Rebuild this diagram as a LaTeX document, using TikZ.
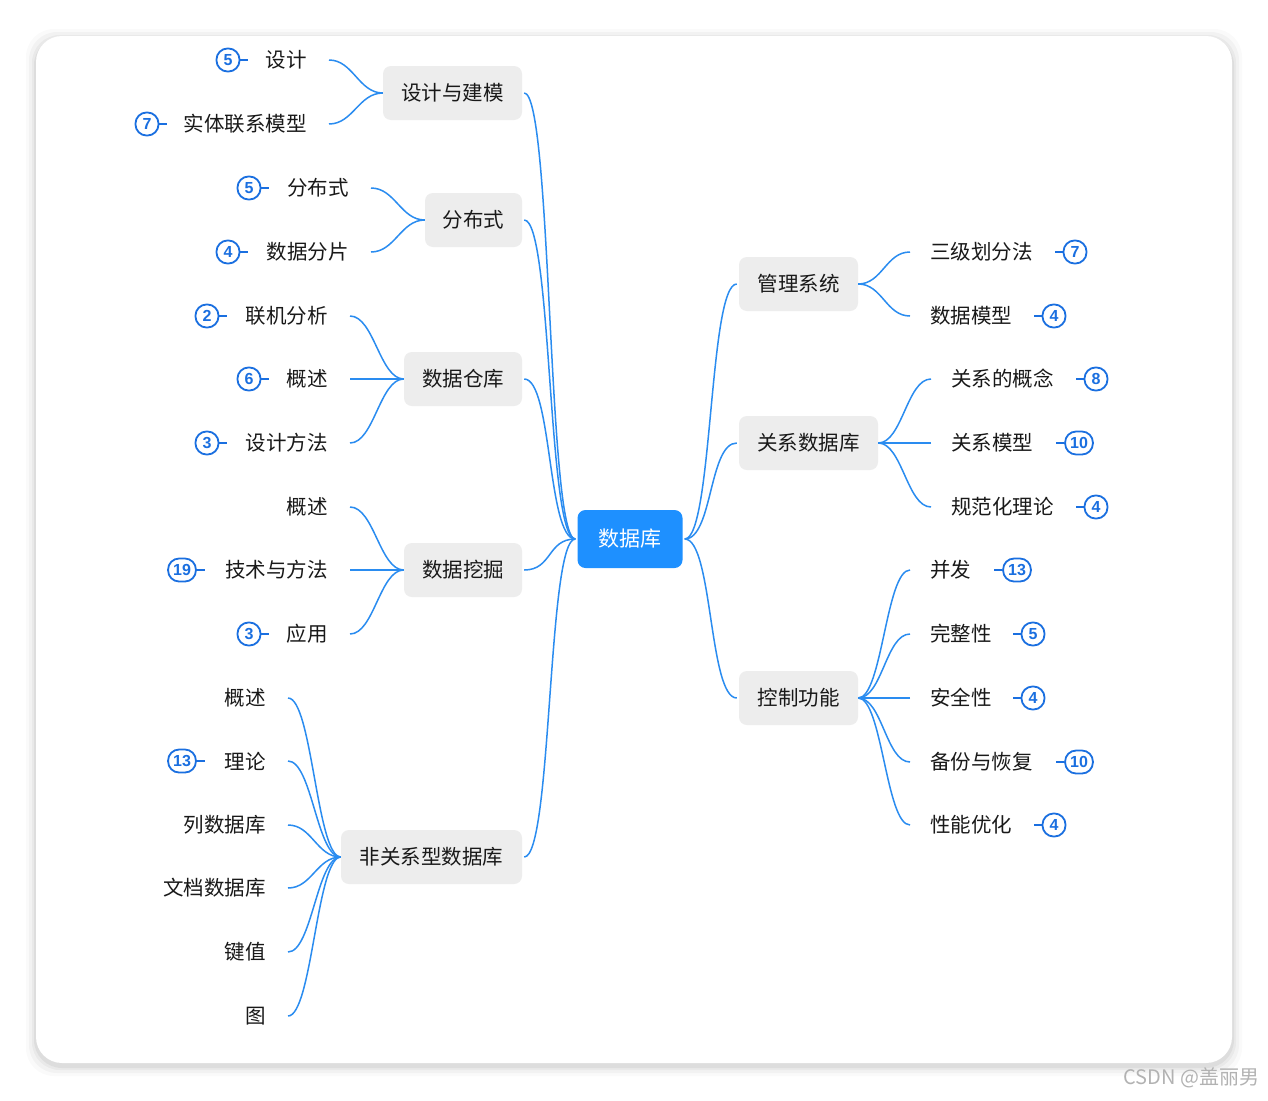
\documentclass[tikz,border=0pt]{standalone}
\usepackage{fontspec}
\setmainfont{Noto Sans CJK SC}
\newfontfamily\numf{Liberation Sans}
\definecolor{linkc}{HTML}{2A8CF0}
\definecolor{badgec}{HTML}{1A6FE0}
\definecolor{cenc}{HTML}{1E90FF}
\definecolor{boxc}{HTML}{EDEDED}
\tikzset{
  link/.style={draw=linkc,line width=1.5pt},
  lvl/.style={fill=boxc,rounded corners=8pt,minimum height=54pt,inner xsep=16pt,font=\fontsize{20.5}{22}\selectfont,text=black!90},
  cen/.style={fill=cenc,rounded corners=8pt,minimum height=58pt,minimum width=105pt,font=\fontsize{21}{22}\selectfont,text=white},
  leaf/.style={inner sep=0pt,font=\fontsize{20.5}{22}\selectfont,text=black!90},
  badge/.style={draw=badgec,line width=1.8pt,rounded corners=11pt,minimum height=23pt,minimum width=23pt,inner ysep=1pt,inner xsep=5pt,font=\numf\bfseries\fontsize{16}{17}\selectfont,text=badgec},
  bline/.style={draw=badgec,line width=1.8pt}
}
\newcommand\lleaf[7]{%
  \node[leaf,anchor=east] (#1) at (#3,#4) {#2};
  \draw[link] ([xshift=22pt]#1.east) to[out=0,in=180,distance=24pt] (#5.west);
  \ifx\relax#6\relax\else
   \node[badge] (#1b) at (#7,#4) {#6};
   \draw[bline] (#1b.east) -- ++(8,0);
  \fi}
\newcommand\rleaf[7]{%
  \node[leaf,anchor=west] (#1) at (#3,#4) {#2};
  \draw[link] ([xshift=-20pt]#1.west) to[out=180,in=0,distance=24pt] (#5.east);
  \node[badge] (#1b) at (#7,#4) {#6};
  \draw[bline] (#1b.west) -- ++(-8,0);}
\begin{document}
\begin{tikzpicture}[x=1pt,y=-1pt]
\useasboundingbox (0,0) rectangle (1268,1100);
\foreach \i/\o in {10/0.02,7/0.03,4/0.04,2/0.05}
  \fill[black,opacity=\o,rounded corners=28pt] (36-\i,36-\i+3) rectangle (1232+\i,1063+\i+3);
\fill[white,rounded corners=26pt] (36,36) rectangle (1232,1063);
\node[text=black!30,font=\fontsize{20}{21}\selectfont,anchor=east] (wm) at (1263,1078) {CSDN @盖丽男};

\node[cen] (c) at (630,539) {数据库};
\node[lvl,minimum width=139pt] (a) at (452.5,93) {设计与建模};
\node[lvl,minimum width=97pt] (b) at (473.5,220) {分布式};
\node[lvl,minimum width=118pt] (d) at (463,379) {数据仓库};
\node[lvl,minimum width=118pt] (e) at (463,570) {数据挖掘};
\node[lvl,minimum width=181pt] (f) at (431.5,857) {非关系型数据库};
\node[lvl,minimum width=119pt] (g) at (798.5,284) {管理系统};
\node[lvl,minimum width=139pt] (h) at (808.5,443) {关系数据库};
\node[lvl,minimum width=119pt] (k) at (798.5,698) {控制功能};

\foreach \n in {a,b,d,e,f}
  \draw[link] ([xshift=-2pt]c.west) to[out=180,in=0,distance=28pt] ([xshift=2pt]\n.east);
\foreach \n in {g,h,k}
  \draw[link] ([xshift=2pt]c.east) to[out=0,in=180,distance=28pt] ([xshift=-2pt]\n.west);

\lleaf{a1}{设计}{307}{60}{a}{5}{228}
\lleaf{a2}{实体联系模型}{307}{124}{a}{7}{147}
\lleaf{b1}{分布式}{349}{188}{b}{5}{249}
\lleaf{b2}{数据分片}{349}{252}{b}{4}{228}
\lleaf{d1}{联机分析}{328}{316}{d}{2}{207}
\lleaf{d2}{概述}{328}{379}{d}{6}{249}
\lleaf{d3}{设计方法}{328}{443}{d}{3}{207}
\lleaf{e1}{概述}{328}{507}{e}{}{0}
\lleaf{e2}{技术与方法}{328}{570}{e}{19}{182}
\lleaf{e3}{应用}{328}{634}{e}{3}{249}
\lleaf{f1}{概述}{266}{698}{f}{}{0}
\lleaf{f2}{理论}{266}{761}{f}{13}{182}
\lleaf{f3}{列数据库}{266}{825}{f}{}{0}
\lleaf{f4}{文档数据库}{266}{888}{f}{}{0}
\lleaf{f5}{键值}{266}{952}{f}{}{0}
\lleaf{f6}{图}{266}{1016}{f}{}{0}

\rleaf{g1}{三级划分法}{930}{252}{g}{7}{1075}
\rleaf{g2}{数据模型}{930}{316}{g}{4}{1054}
\rleaf{h1}{关系的概念}{951}{379}{h}{8}{1096}
\rleaf{h2}{关系模型}{951}{443}{h}{10}{1079}
\rleaf{h3}{规范化理论}{951}{507}{h}{4}{1096}
\rleaf{k1}{并发}{930}{570}{k}{13}{1017}
\rleaf{k2}{完整性}{930}{634}{k}{5}{1033}
\rleaf{k3}{安全性}{930}{698}{k}{4}{1033}
\rleaf{k4}{备份与恢复}{930}{762}{k}{10}{1079}
\rleaf{k5}{性能优化}{930}{825}{k}{4}{1054}
\end{tikzpicture}
\end{document}
